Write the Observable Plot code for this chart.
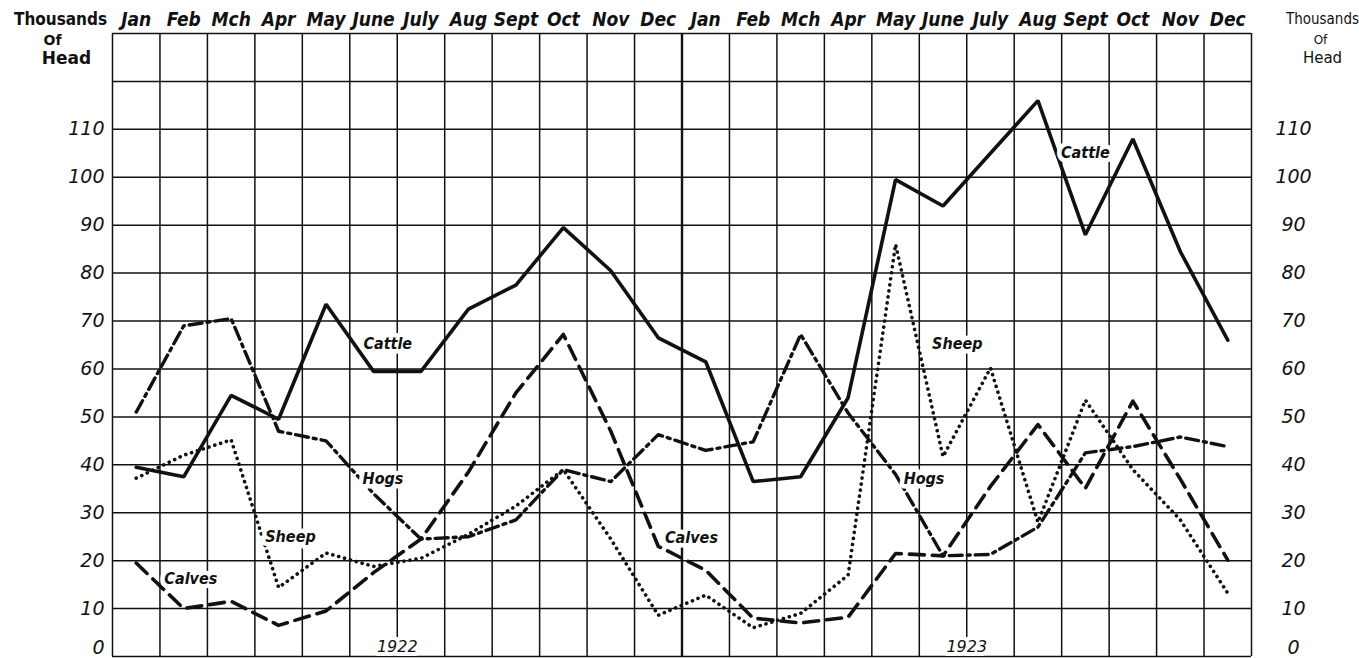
<!DOCTYPE html>
<html>
<head>
<meta charset="utf-8">
<script src="https://cdn.jsdelivr.net/npm/d3@7"></script>
<script src="https://cdn.jsdelivr.net/npm/@observablehq/plot@0.6"></script>
<style>
  html, body { margin: 0; padding: 0; background: #ffffff; }
  #chart svg { display: block; background: #ffffff; }
</style>
</head>
<body>
<div id="chart"></div>
<script>
// ---- Data (thousands of head, monthly, Jan 1922 – Dec 1923) ----
const monthLabels = ["Jan","Feb","Mch","Apr","May","June","July","Aug","Sept","Oct","Nov","Dec",
                     "Jan","Feb","Mch","Apr","May","June","July","Aug","Sept","Oct","Nov","Dec"];
const cattle = [39.5, 37.5, 54.5, 49.5, 73.5, 59.5, 59.5, 72.5, 77.5, 89.5, 80.5, 66.5,
                61.5, 36.5, 37.5, 54, 99.5, 94, 105, 116, 88, 108, 84.5, 66];
const hogs   = [51, 69, 70.5, 47, 45, 34, 24.5, 25, 28.5, 39, 36.5, 46.3,
                43, 44.8, 67.2, 50.8, 38, 21, 21.3, 27, 42.5, 43.8, 45.8, 43.8];
const calves = [19.5, 10, 11.5, 6.5, 9.5, 17.5, 24.5, 38.5, 55, 67.2, 47, 23,
                18, 8, 7, 8.2, 21.5, 21, 35.5, 48.4, 35.1, 53.3, 37, 20.1];
const sheep  = [37.2, 42, 45.2, 14.4, 21.6, 18.8, 20.5, 25.5, 31.4, 39, 24.5, 8.6,
                12.8, 6, 9, 17, 86, 41.7, 60.2, 28, 53.5, 39, 28.5, 13.2];
const yTicks = [10, 20, 30, 40, 50, 60, 70, 80, 90, 100, 110];
const yZero = [0];
const yearLabels = ["1922", "1923"];
const seriesLabels = ["Cattle", "Hogs", "Sheep", "Calves", "Calves", "Sheep", "Hogs", "Cattle"];

// annotation anchors (month index units, value units)
const labelMonth = [5.8, 5.7, 3.75, 1.65, 12.2, 17.8, 17.1, 20.5];
const labelValue = [65.3, 37, 25, 16.3, 24.8, 65.3, 37, 105];
const yearMonth = [6, 18];

// ---- Tables built from the arrays ----
const toRows = (arr) => arr.map((v, i) => ({x: i + 0.5, y: v}));
const monthRows = monthLabels.map((m, i) => ({x: i + 0.5, label: m}));
const labelRows = seriesLabels.map((t, i) => ({x: labelMonth[i], y: labelValue[i], text: t}));
const yearRows = yearLabels.map((t, i) => ({x: yearMonth[i], text: t}));

const ink = "#111";
const font = "DejaVu Sans, Verdana, sans-serif";
const condensed = "DejaVu Sans Condensed, DejaVu Sans, sans-serif";

const yLabelOpts = {fontSize: 19, fontStyle: "italic", fill: ink, fontFamily: font, ariaLabel: "ylabels"};

const chart = Plot.plot({
  width: 1359,
  height: 658,
  marginLeft: 112,
  marginRight: 108,
  marginTop: 33,
  marginBottom: 2,
  style: {background: "#ffffff", fontFamily: font, overflow: "visible"},
  x: {domain: [0, 24], axis: null},
  y: {domain: [0, 130], axis: null},
  marks: [
    // grid
    Plot.ruleX(d3.range(0, 25), {y1: 0, y2: 130, stroke: ink, strokeWidth: 1.5}),
    Plot.ruleY(d3.range(0, 140, 10), {x1: 0, x2: 24, stroke: ink, strokeWidth: 1.5}),
    Plot.ruleX([12], {y1: 0, y2: 130, stroke: ink, strokeWidth: 2.4}),

    // series lines
    Plot.line(toRows(cattle), {x: "x", y: "y", stroke: ink, strokeWidth: 3.6, strokeLinejoin: "miter"}),
    Plot.line(toRows(calves), {x: "x", y: "y", stroke: ink, strokeWidth: 3.6, strokeDasharray: "15,8"}),
    Plot.line(toRows(hogs), {x: "x", y: "y", stroke: ink, strokeWidth: 3.4, strokeDasharray: "13,5,3,5"}),
    Plot.line(toRows(sheep), {x: "x", y: "y", stroke: ink, strokeWidth: 3.6, strokeLinecap: "round", strokeDasharray: "0.1,6"}),

    // series labels with white halo
    Plot.text(labelRows, {x: "x", y: "y", text: "text", fontSize: 16, fontStyle: "italic", fontWeight: "bold",
      fill: ink, stroke: "white", strokeWidth: 9, paintOrder: "stroke", fontFamily: condensed}),

    // year labels
    Plot.text(yearRows, {x: "x", y: 0, text: "text", dy: -10, fontSize: 16, fontStyle: "italic",
      fill: ink, stroke: "white", strokeWidth: 8, paintOrder: "stroke", fontFamily: font}),

    // month labels at top
    Plot.text(monthRows, {x: "x", y: 130, text: "label", dy: -14, fontSize: 19, fontStyle: "italic", fontWeight: "bold",
      fill: ink, fontFamily: condensed, ariaLabel: "months"}),

    // y labels, left and right
    Plot.text(yTicks, {x: 0, y: d => d, text: d => String(d), dx: -8, textAnchor: "end", ...yLabelOpts}),
    Plot.text(yTicks, {x: 24, y: d => d, text: d => String(d), dx: 42, textAnchor: "middle", ...yLabelOpts}),
    Plot.text(yZero, {x: 0, y: d => d, text: d => String(d), dx: -8, dy: -9, textAnchor: "end", ...yLabelOpts}),
    Plot.text(yZero, {x: 24, y: d => d, text: d => String(d), dx: 42, dy: -9, textAnchor: "middle", ...yLabelOpts}),

    // unit headers
    Plot.text(["Thousands"], {x: 0, y: 130, dx: -52, dy: -14, fontSize: 17, fontWeight: "bold", fill: ink, fontFamily: condensed, ariaLabel: "unit"}),
    Plot.text(["Of"], {x: 0, y: 130, dx: -60, dy: 7, fontSize: 14, fontWeight: "bold", fill: ink, fontFamily: font}),
    Plot.text(["Head"], {x: 0, y: 130, dx: -46, dy: 25, fontSize: 17, fontWeight: "bold", fill: ink, fontFamily: font}),
    Plot.text(["Thousands"], {x: 24, y: 130, dx: 71, dy: -14, fontSize: 15, fill: ink, fontFamily: condensed, ariaLabel: "unit"}),
    Plot.text(["Of"], {x: 24, y: 130, dx: 69, dy: 7, fontSize: 12, fill: ink, fontFamily: font}),
    Plot.text(["Head"], {x: 24, y: 130, dx: 71, dy: 25, fontSize: 15, fill: ink, fontFamily: font})
  ]
});

chart.querySelectorAll('g[aria-label="ylabels"] text').forEach(t => t.setAttribute("letter-spacing", "6"));
chart.querySelectorAll('g[aria-label="months"] text').forEach(t => t.setAttribute("letter-spacing", "-0.5"));
chart.querySelectorAll('g[aria-label="unit"] text').forEach(t => t.setAttribute("letter-spacing", "-0.6"));
document.getElementById("chart").appendChild(chart);
</script>
</body>
</html>
